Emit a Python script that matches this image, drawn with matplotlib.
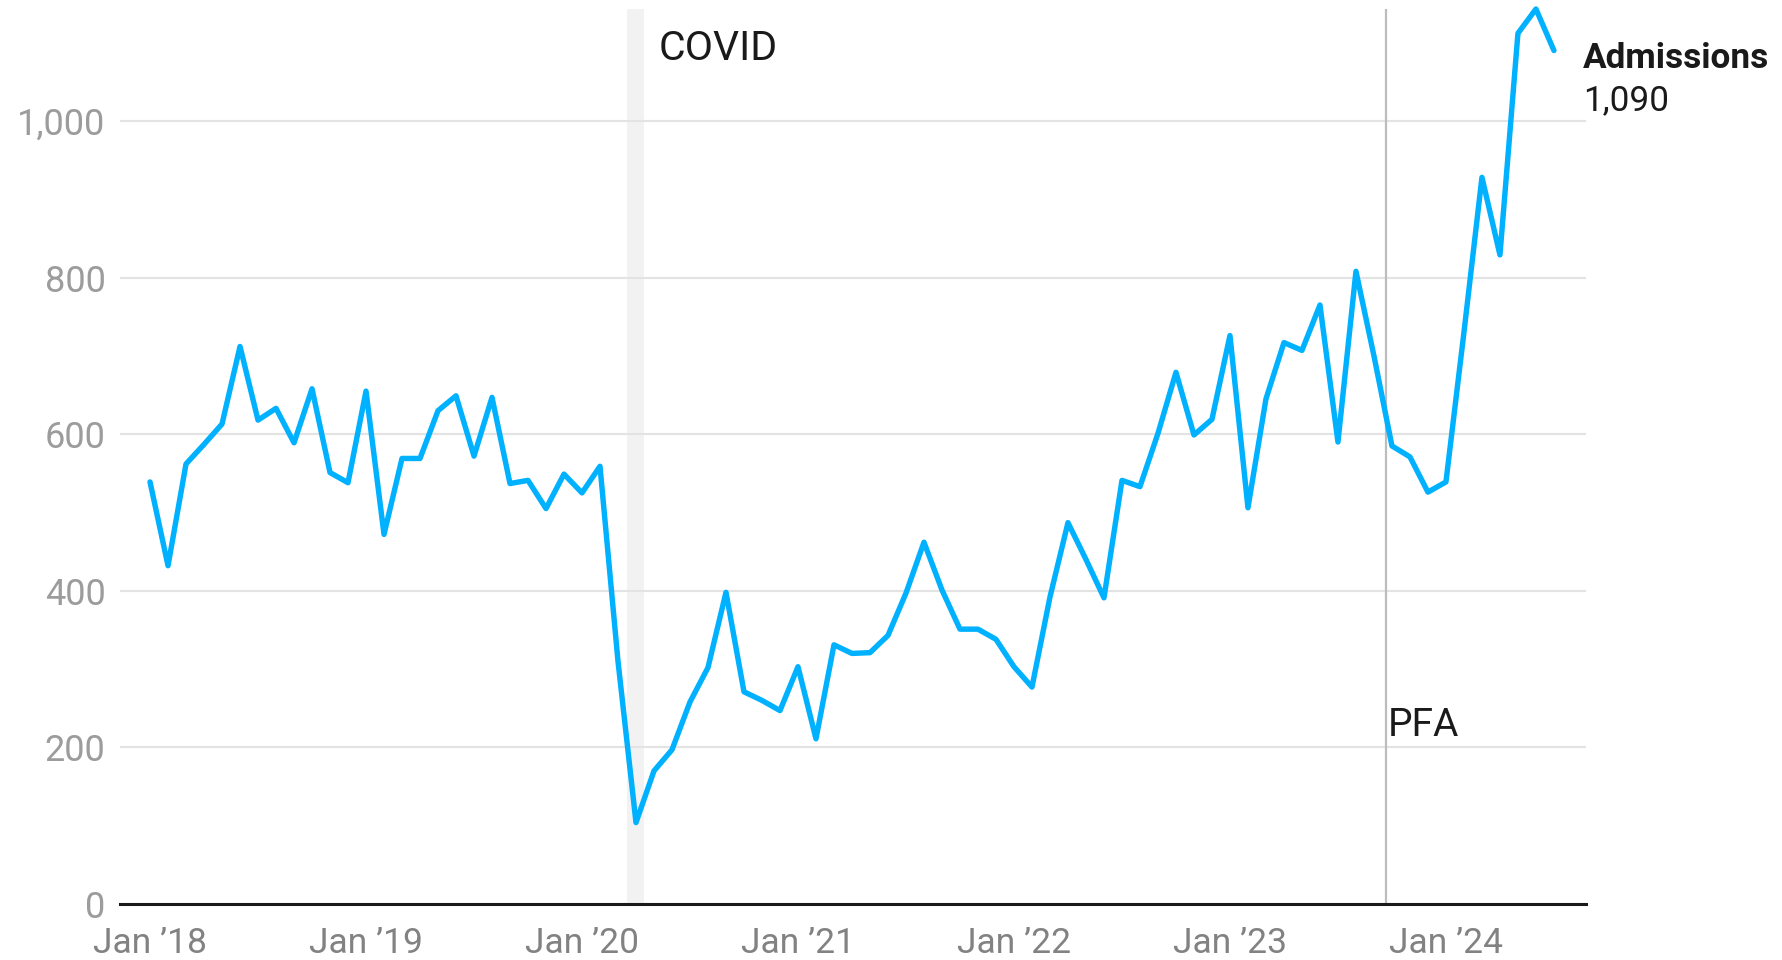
import numpy as np
import pandas as pd
import matplotlib
matplotlib.use('Agg')
import matplotlib.pyplot as plt
from matplotlib.ticker import FuncFormatter

# monthly admissions, Jan 2018 .. Jul 2024
admissions = [539, 432, 562, 587, 613, 712, 618, 633, 589, 658, 551, 538,
              655, 472, 569, 569, 630, 649, 572, 647, 537, 541, 505, 549,
              525, 559, 310, 104, 170, 197, 258, 302, 398, 271, 260, 247,
              303, 211, 331, 320, 321, 343, 397, 462, 401, 351, 351, 338,
              303, 277, 392, 487, 440, 391, 541, 533, 601, 679, 599, 619,
              726, 506, 645, 717, 707, 765, 590, 808, 700, 585, 571, 526,
              539, 730, 928, 829, 1112, 1143, 1090]
start_month = '2018-01'
tick_years = [2018, 2019, 2020, 2021, 2022, 2023, 2024]
y_ticks = [0, 200, 400, 600, 800, 1000]

# annotations (month index from Jan 2018)
covid_span = (26.5, 27.45)
pfa_month = 68.67

plt.rcParams['font.family'] = ['Roboto', 'DejaVu Sans']

months = pd.date_range(start_month, periods=len(admissions), freq='MS')
x = np.arange(len(admissions))

fig = plt.figure(figsize=(17.83, 9.6), dpi=100)
ax = fig.add_axes([120.5 / 1783, 56 / 960, 1465.3 / 1783, 895 / 960])

ax.axvspan(covid_span[0], covid_span[1], color='#f2f2f2', zorder=0, lw=0)
ax.axvline(pfa_month, color='#bdbdbd', lw=1.6, zorder=1)

ax.plot(x, admissions, color='#00b1ff', lw=3.9, solid_joinstyle='round',
        solid_capstyle='round', zorder=3, clip_on=False)

ax.set_xlim(-1.64, 79.77)
ax.set_ylim(0, 1143)

ax.set_yticks(y_ticks)
ax.yaxis.set_major_formatter(FuncFormatter(lambda v, p: f'{int(v):,}'))
tick_pos = [x[months.year == yr][0] for yr in tick_years]
ax.set_xticks(tick_pos)
ax.set_xticklabels([f'Jan \u2019{yr % 100:02d}' for yr in tick_years])

ax.grid(axis='y', color='#e3e3e3', lw=1.5)
ax.grid(axis='x', visible=False)
ax.set_axisbelow(True)

for side in ['left', 'right', 'top']:
    ax.spines[side].set_visible(False)
ax.spines['bottom'].set_color('#1a1a1a')
ax.spines['bottom'].set_linewidth(2.2)
ax.spines['bottom'].set_zorder(4)

ax.tick_params(axis='y', length=0, pad=10.8, labelsize=26, labelcolor='#9c9c9c')
ax.tick_params(axis='x', length=0, pad=16.5, labelsize=25.5, labelcolor='#828282')

# event labels
ax.annotate('COVID', xy=(covid_span[1], 1143), xytext=(15, -51),
            textcoords='offset pixels', fontsize=29.5, color='#1a1a1a',
            ha='left', va='baseline')
ax.annotate('PFA', xy=(pfa_month, 214), xytext=(2, 0),
            textcoords='offset pixels', fontsize=28, color='#1a1a1a',
            ha='left', va='baseline')

# end label
ax.annotate('Admissions', xy=(x[-1], admissions[-1]), xytext=(29, -8),
            textcoords='offset pixels', fontsize=25.3, fontweight='bold',
            color='#1a1a1a', ha='left', va='center', annotation_clip=False)
ax.annotate(f'{admissions[-1]:,}', xy=(x[-1], admissions[-1]), xytext=(29, -50),
            textcoords='offset pixels', fontsize=25.3,
            color='#1a1a1a', ha='left', va='center', annotation_clip=False)

fig.savefig('out.png', dpi=100, facecolor='white')
